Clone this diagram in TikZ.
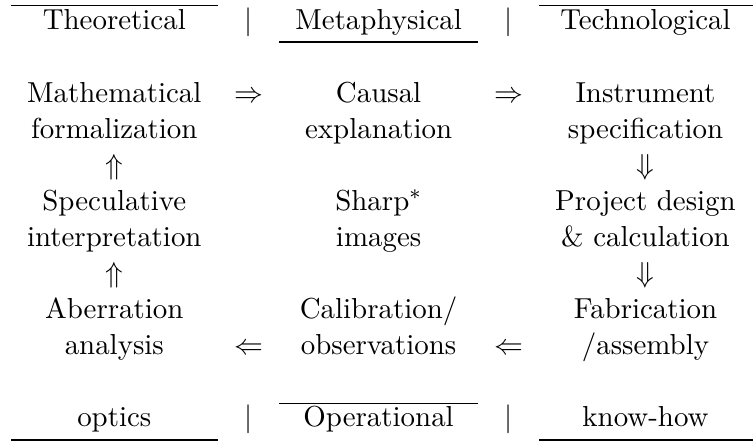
\documentclass[tikz,border=0pt]{standalone}
\usepackage{amsmath}
\tikzstyle{entry} = [inner sep=0pt, anchor=base, align=center]
\tikzstyle{glyph} = [inner sep=0pt, anchor=base]
\tikzstyle{hline} = [line width=0.4pt]

\begin{document}
\begin{tikzpicture}[x=0.3788pt, y=-0.3788pt, font=\fontsize{10.95}{13.6}\selectfont]
	\useasboundingbox (0,0) rectangle (753,441);

	% header row
	\node [entry] (theo) at (114.3,29.5) {Theoretical};
	\node [glyph] (bar1) at (248.3,29.5) {$|$};
	\node [entry] (meta) at (378.6,29.5) {Metaphysical};
	\node [glyph] (bar2) at (508.7,29.5) {$|$};
	\node [entry] (tech) at (645.5,29.5) {Technological};
	\draw [hline] (11,5.7) -- (217.7,5.7);
	\draw [hline] (279,42) -- (478.3,42);
	\draw [hline] (539,5.7) -- (753,5.7);

	% the cycle (base = last line)
	\node [entry] (math) at (114.3,138) {Mathematical\\formalization};
	\node [entry] (causal) at (378.6,138) {Causal\\explanation};
	\node [entry] (instr) at (645.5,138) {Instrument\\specification};
	\node [entry] (spec) at (114.3,246) {Speculative\\interpretation};
	\node [entry] (sharp) at (378.6,246) {Sharp$^*$\\images};
	\node [entry] (proj) at (645.5,246) {Project design\\\& calculation};
	\node [entry] (aber) at (114.3,354) {Aberration\\analysis};
	\node [entry] (calib) at (378.6,354) {Calibration/\\observations};
	\node [entry] (fab) at (645.5,354) {Fabrication\\/assembly};

	\path ([yshift=13.6pt]math.base) -- node[glyph, pos=0.509] (r1) {$\Rightarrow$} ([yshift=13.6pt]causal.base);
	\path ([yshift=13.6pt]causal.base) -- node[glyph, pos=0.488] (r2) {$\Rightarrow$} ([yshift=13.6pt]instr.base);
	\path (instr.base) -- node[glyph, pos=1/3] (d1) {$\Downarrow$} (proj.base);
	\path (proj.base) -- node[glyph, pos=1/3] (d2) {$\Downarrow$} (fab.base);
	\path (fab.base) -- node[glyph, pos=0.512] (l1) {$\Leftarrow$} (calib.base);
	\path (calib.base) -- node[glyph, pos=0.491] (l2) {$\Leftarrow$} (aber.base);
	\path (aber.base) -- node[glyph, pos=2/3] (u1) {$\Uparrow$} (spec.base);
	\path (spec.base) -- node[glyph, pos=2/3] (u2) {$\Uparrow$} (math.base);

	% footer row
	\node [entry] (optics) at (114.3,426.5) {optics};
	\node [glyph] (bar3) at (248.3,426.5) {$|$};
	\node [entry] (oper) at (378.6,426.5) {Operational};
	\node [glyph] (bar4) at (508.7,426.5) {$|$};
	\node [entry] (know) at (645.5,426.5) {know-how};
	\draw [hline] (11,440) -- (217.7,440);
	\draw [hline] (279,403.3) -- (478.3,403.3);
	\draw [hline] (539,440) -- (753,440);
\end{tikzpicture}
\end{document}
